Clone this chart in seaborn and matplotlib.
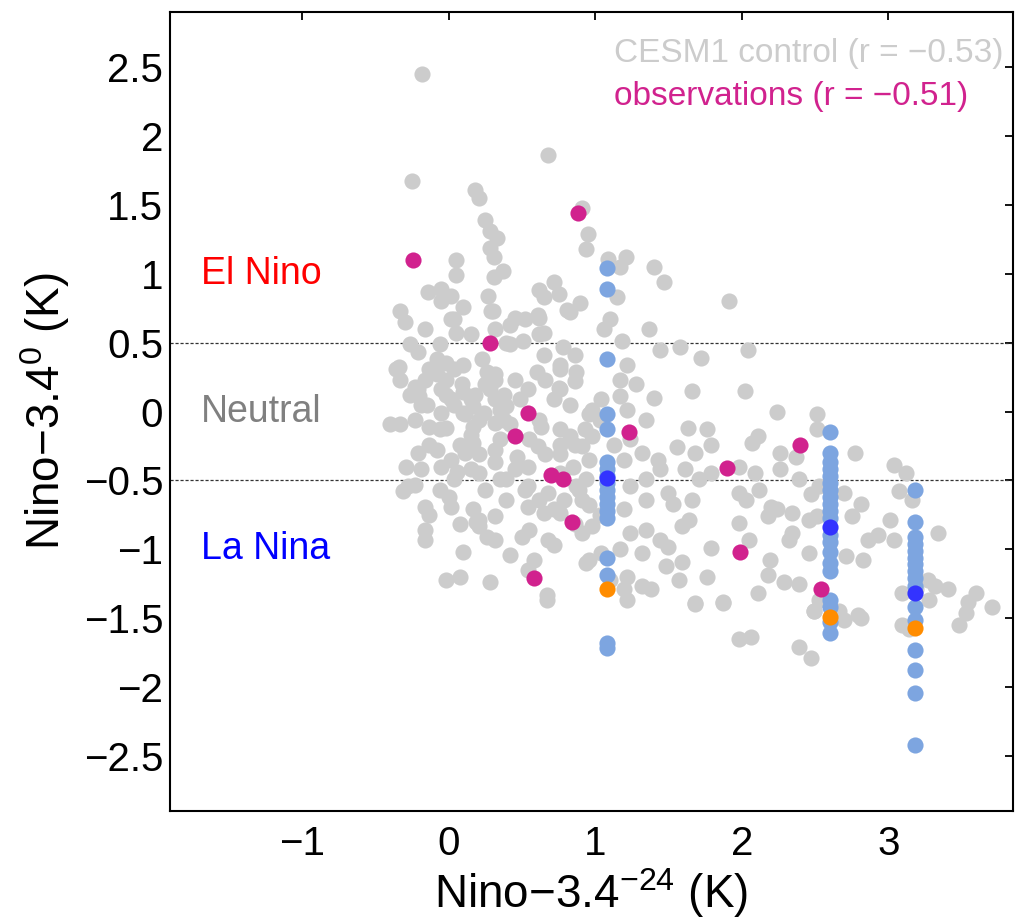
import matplotlib
matplotlib.use('Agg')
import matplotlib.pyplot as plt
from matplotlib.ticker import FuncFormatter
import pandas as pd
import seaborn as sns

# CESM1 control run (grey)
ctrl_x = [-0.18, 0.68, -0.25, 0.18, 0.21, 0.91, 0.25, 0.28, 0.33, 0.95, 0.94, 0.28, 0.31, 0.37, 0.31,
          0.05, 0.05, 1.09, 1.21, 1.17, 1.40, 1.47, 1.91, 1.15, 0.90, 0.72, 0.62, 0.75, 0.65, 0.27,
          0.30, -0.14, -0.05, 0.02, -0.05, 0.10, -0.33, 0.81, 0.61, 0.45, -0.30, 0.02, 0.05, 0.29,
          0.42, 0.62, 0.65, 0.83, 1.06, 0.51, 0.39, 0.78, 1.18, 1.58, 2.04, 1.72, 1.22, -0.21, -0.34,
          -0.08, -0.02, 0.04, 0.10, 0.23, 0.26, 0.65, 0.76, 0.87, 0.60, 0.32, 1.28, 1.40, 1.66, 2.02,
          0.75, 0.86, 0.54, -0.23, -0.20, -0.15, -0.05, 0.02, 0.10, 0.17, 0.28, 0.32, 0.39, 0.24,
          0.10, -0.05, -0.40, -0.23, -0.13, -0.02, 0.17, 0.32, 0.63, 0.98, 1.04, 1.17, 1.22, 1.35,
          1.24, 0.98, 0.83, 0.76, 0.91, 1.63, 1.76, 2.24, 2.51, 2.11, 1.56, 1.68, 1.79, 2.07, 2.26,
          2.37, 2.51, 2.77, 3.04, 3.12, 1.98, 2.09, 1.79, 1.61, 1.43, 1.32, 1.20, 1.24, 1.35, 1.50,
          1.66, 1.53, 1.98, 2.03, 2.20, 2.34, 2.47, 2.53, 2.70, 2.81, 2.75, 2.51, 3.07, 3.16, 2.86,
          2.93, 3.04, 3.01, 3.34, 3.32, 3.41, 3.60, 3.54, 3.71, 3.19, 3.27, 3.09, 2.79, 2.70, 2.49,
          2.53, 2.46, 2.71, 2.83, 2.29, 2.39, 2.18, 2.11, 1.87, 1.68, 1.76, 1.57, 1.48, 1.59, 1.79,
          2.05, 1.98, 2.34, 2.24, 2.18, 1.59, 1.50, 1.35, 1.24, 1.17, 1.32, 1.22, 1.32, 1.38, 1.20,
          0.67, 0.58, 0.54, 0.28, 0.08, -0.02, 0.10, -0.16, -0.16, 0.26, 0.21, 0.50, 0.68, 0.94,
          1.04, 0.91, 0.98, 0.76, 0.65, 0.54, 0.39, 0.32, 0.17, 0.19, 0.00, 0.02, -0.16, -0.31,
          -0.28, -0.29, -0.21, -0.08, 0.02, 0.11, 0.17, 0.32, 0.32, 0.21, 0.06, -0.05, 0.47, 0.61,
          0.54, 0.39, 0.54, 0.68, 0.87, 0.94, 0.91, 1.20, 1.35, 0.85, 0.76, 0.67, 1.22, 1.68, 1.87,
          1.98, 2.06, 2.39, 2.47, 2.49, 2.81, 3.09, 3.14, 3.53, 3.28, -0.33, -0.21, -0.13, -0.02,
          0.09, 0.15, 0.21, 0.35, 0.38, 0.62, 0.72, 0.76, 0.66, 0.55, 0.96, 1.03, 1.13, 1.17, 1.10,
          1.37, 1.44, 3.48, 2.66,
          -0.36, -0.33, -0.26, -0.19, -0.16, -0.08, -0.02, 0.04, 0.11, 0.18, 0.25, 0.32, 0.38, 0.45,
          0.35, 0.42, 0.49, 0.15, 0.08, 0.21, -0.06, -0.13, -0.19, -0.23, -0.06, 0.04, 0.15, 0.25,
          0.35, 0.45, 0.52, 0.62, 0.72, 0.79, 0.89, 0.96, 1.03, 0.76, 0.86, 0.93, 0.96, 0.83, 0.76,
          0.66, 0.76, 0.86, 0.62, 0.52, 0.42, 0.32, 0.15, 0.04, -0.06, -0.16, -0.26,
          0.21, 0.32, 0.42, 0.55, 0.72, 0.86, 0.96, 1.10, 0.08, -0.13,
          1.44, 1.71, 2.12, 2.26, 2.39, 2.46, 2.32, 2.19, 1.64, 1.44]
ctrl_y = [2.45, 1.86, 1.67, 1.61, 1.55, 1.48, 1.39, 1.31, 1.26, 1.29, 1.18, 1.19, 1.12, 1.02, 0.98,
          1.10, 0.99, 1.11, 1.12, 1.05, 1.05, 0.94, 0.80, 0.83, 0.79, 0.94, 0.88, 0.85, 0.83, 0.84,
          0.73, 0.87, 0.89, 0.84, 0.80, 0.76, 0.73, 0.74, 0.70, 0.68, 0.65, 0.67, 0.57, 0.73,
          0.63, 0.68, 0.57, 0.72, 0.60, 0.51, 0.50, 0.47, 0.51, 0.47, 0.45, 0.39, 0.34, 0.43, 0.32,
          0.38, 0.35, 0.31, 0.34, 0.38, 0.29, 0.41, 0.31, 0.29, 0.29, 0.23, 0.20, 0.10, 0.15, 0.15,
          0.17, 0.22, 0.16, 0.18, 0.11, 0.05, 0.16, 0.09, 0.14, 0.04, 0.16, 0.09, 0.04, -0.01,
          -0.01, -0.01, -0.09, -0.06, -0.11, -0.12, -0.11, -0.08, -0.11, 0.01, 0.09, 0.11, 0.01, -0.06,
          -0.20, -0.18, -0.18, -0.24, -0.25, -0.12, -0.13, 0.00, -0.02, -0.18, -0.26, -0.30, -0.24, -0.23, -0.30,
          -0.33, -0.13, -0.30, -0.39, -0.45, -0.40, -0.45, -0.45, -0.42, -0.35, -0.30, -0.35, -0.54, -0.49, -0.59,
          -0.64, -0.67, -0.59, -0.64, -0.69, -0.74, -0.60, -0.54, -0.59, -0.67, -0.76, -0.76, -0.58, -0.64, -0.93,
          -0.90, -0.93, -0.79, -0.88, -1.27, -1.29, -1.32, -1.38, -1.42, -1.29, -1.22, -1.32, -1.48, -1.51, -1.45,
          -1.37, -1.03, -1.05, -1.08, -1.24, -1.25, -1.19, -1.32, -1.38, -1.39, -1.20, -1.22, -1.12, -1.09, -0.99,
          -0.93, -0.81, -0.88, -0.71, -0.76, -0.83, -0.98, -0.86, -0.88, -1.00, -1.03, -1.20, -1.27, -1.29, -1.29,
          -1.33, -1.08, -1.15, -1.24, -1.20, -1.22, -1.02, -0.86, -0.93, -0.91, -0.83, -0.91, -0.93, -1.10,
          -1.03, -0.88, -0.83, -0.74, -0.74, -0.69, -0.64, -0.76, -0.71, -0.80, -0.62, -0.69, -0.69, -0.58,
          -0.54, -0.40, -0.30, -0.28, -0.35, -0.30, -0.23, -0.28, -0.37, -0.45, -0.44, -0.40, -0.33, -0.25,
          -0.40, -0.49, -0.54, -0.59, -0.54, -0.49, -0.64, -0.71, -0.64, -0.40, -0.45, -1.37, -1.37, -1.40, -1.39,
          -1.65, -1.64, -1.71, -1.79, -1.45, -1.50, -1.55, -1.58, -1.46, -1.37, -0.09, 0.16, 0.31, 0.23,
          0.20, 0.09, -0.06, -0.20, -0.06, -0.06, 0.09, -0.13, -0.31, -0.20, -0.35, -0.06, -0.24, 0.23, 0.67,
          0.60, 0.45, -1.55, -1.45,
          0.31, 0.23, 0.12, 0.05, 0.23, 0.27, 0.12, 0.05, -0.02, 0.12, 0.20, 0.27, 0.12, 0.23,
          0.01, -0.09, 0.09, -0.17, -0.24, -0.31, -0.13, -0.24, -0.42, -0.53, -0.57, -0.49, -0.42, -0.57,
          -0.49, -0.42, -0.57, -0.64, -0.71, -0.64, -0.57, -0.68, -0.75, -0.31, -0.24, -0.13, -0.02, 0.05, 0.16,
          0.23, 0.34, 0.41, 0.56, 0.67, 0.49, 0.60, 0.56, 0.67, 0.49, 0.60, 0.49,
          -0.79, -0.93, -1.04, -0.86, -0.97, -0.82, -1.08, -1.22, -0.82, -0.75,
          -0.42, -0.49, -0.57, -0.42, -0.49, -0.79, -0.93, -1.08, -0.79, -0.93]

# observations (magenta)
obs_x = [-0.24, 0.88, 0.28, 0.54, 0.45, 1.23, 0.70, 0.78, 0.84, 0.58, 1.90, 1.99, 2.40, 2.54]
obs_y = [1.10, 1.44, 0.50, -0.01, -0.18, -0.15, -0.46, -0.49, -0.80, -1.21, -0.41, -1.02, -0.24, -1.29]

# ensemble members (light blue), ensemble means (dark blue), orange estimates
ens_x = [1.08] * 18 + [2.60] * 20 + [3.18] * 16
ens_y = [1.04, 0.89, 0.38, -0.02, -0.13, -0.37, -0.42, -0.47, -0.52, -0.57, -0.62, -0.67, -0.72,
         -0.77, -1.06, -1.19, -1.68, -1.72,
         -0.15, -0.30, -0.37, -0.42, -0.47, -0.52, -0.57, -0.62, -0.67, -0.72, -0.77, -0.90, -0.95,
         -1.02, -1.10, -1.16, -1.37, -1.42, -1.53, -1.61,
         -0.57, -0.80, -0.91, -0.96, -1.01, -1.06, -1.11, -1.16, -1.21, -1.27, -1.42, -1.51, -1.73,
         -1.88, -2.04, -2.42]
mean_x = [1.08, 2.60, 3.18]
mean_y = [-0.48, -0.84, -1.32]
alt_x = [1.08, 2.60, 3.18]
alt_y = [-1.29, -1.49, -1.57]

ctrl = pd.DataFrame({'x': ctrl_x, 'y': ctrl_y})
obs = pd.DataFrame({'x': obs_x, 'y': obs_y})
ens = pd.DataFrame({'x': ens_x, 'y': ens_y})
means = pd.DataFrame({'x': mean_x, 'y': mean_y})
alt = pd.DataFrame({'x': alt_x, 'y': alt_y})

sns.set_theme(style='white')
plt.rcParams['font.family'] = ['Liberation Sans', 'DejaVu Sans']
plt.rcParams['mathtext.default'] = 'regular'

fig = plt.figure(figsize=(10.15, 9.24), dpi=100)
ax = fig.add_axes([0.1675, 0.1223, 0.8305, 0.8647])

ms = 135
sns.scatterplot(data=ctrl, x='x', y='y', color='#cccccc', s=ms, linewidth=0, ax=ax, zorder=2)
sns.scatterplot(data=ens, x='x', y='y', color='#7da5e0', s=ms, linewidth=0, ax=ax, zorder=3)
sns.scatterplot(data=means, x='x', y='y', color='#3333ff', s=ms, linewidth=0, ax=ax, zorder=4)
sns.scatterplot(data=alt, x='x', y='y', color='#ff8c00', s=ms, linewidth=0, ax=ax, zorder=4)
sns.scatterplot(data=obs, x='x', y='y', color='#d1228e', s=ms, linewidth=0, ax=ax, zorder=5)

for yv in (0.5, -0.5):
    ax.axhline(yv, color='#333333', lw=0.9, ls=(0, (2.5, 1.5)), zorder=1)

ax.text(-1.69, 1.0, 'El Nino', color='#ff0000', fontsize=27, va='center', ha='left')
ax.text(-1.69, 0.0, 'Neutral', color='#808080', fontsize=27, va='center', ha='left')
ax.text(-1.69, -1.0, 'La Nina', color='#0000ff', fontsize=27, va='center', ha='left')
ax.text(1.13, 2.60, 'CESM1 control (r = \u22120.53)', color='#cccccc', fontsize=24, va='center', ha='left')
ax.text(1.13, 2.29, 'observations (r = \u22120.51)', color='#d1228e', fontsize=24, va='center', ha='left')

ax.set_xlim(-1.9, 3.85)
ax.set_ylim(-2.9, 2.9)
ax.set_xticks([-1, 0, 1, 2, 3])
ax.set_yticks([-2.5, -2, -1.5, -1, -0.5, 0, 0.5, 1, 1.5, 2, 2.5])
fmt = FuncFormatter(lambda v, p: f'{v:g}'.replace('-', '\u2212'))
ax.xaxis.set_major_formatter(fmt)
ax.yaxis.set_major_formatter(fmt)
ax.tick_params(direction='in', length=6, width=1.3, labelsize=29, top=True, right=True,
               labeltop=False, labelright=False, color='black', labelcolor='black')
ax.tick_params(axis='x', pad=10)
ax.tick_params(axis='y', pad=5)
for sp in ax.spines.values():
    sp.set_visible(True)
    sp.set_color('black')
    sp.set_linewidth(1.5)

ax.set_xlabel('Nino\u22123.4$^{\u221224}$ (K)', fontsize=33, labelpad=2, color='black')
ax.set_ylabel('Nino\u22123.4$^{0}$ (K)', fontsize=33, labelpad=8, color='black')

fig.savefig('out.png', dpi=100)
